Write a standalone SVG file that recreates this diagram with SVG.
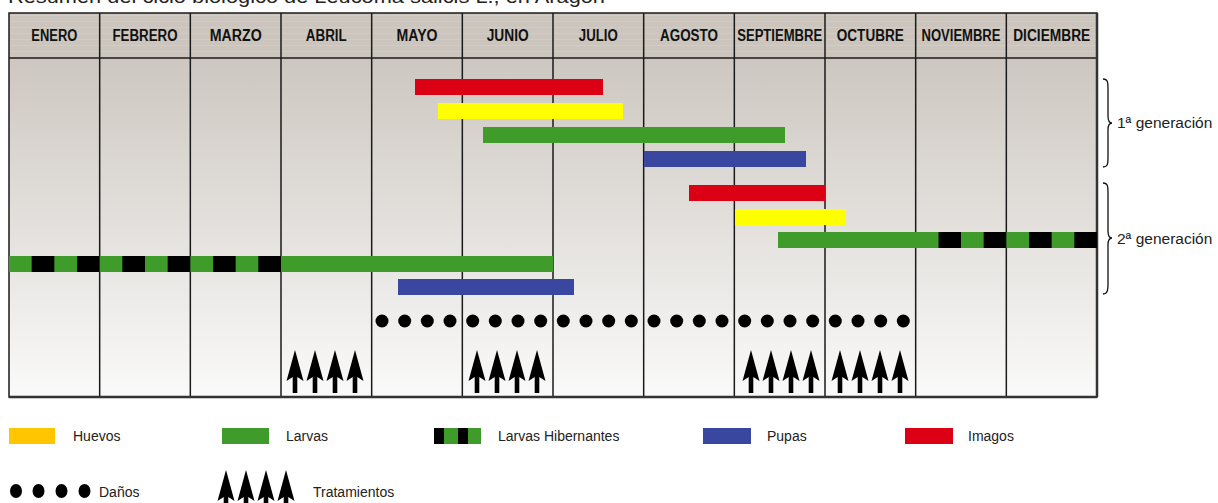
<svg xmlns="http://www.w3.org/2000/svg" width="1218" height="503" viewBox="0 0 1218 503">
<style>
.t{font-family:"Liberation Sans",Arial,sans-serif;fill:#222}
.hd{font-family:"Liberation Sans",Arial,sans-serif;font-weight:bold;font-size:16px;fill:#111;text-anchor:middle}
.lg{font-size:14px}
.grid{stroke:#1a1a1a;stroke-width:1.5;fill:none}
.red{fill:#dc0014}.yel{fill:#ffff00}.grn{fill:#3f9c2b}.blu{fill:#3a47a0}
.brace{fill:none;stroke:#111;stroke-width:1.3}
</style>
<defs>
<linearGradient id="bodyg" x1="0" y1="58" x2="0" y2="397" gradientUnits="userSpaceOnUse">
<stop offset="0" stop-color="#cdc7c0"/>
<stop offset="1" stop-color="#fafafa"/>
</linearGradient>
<pattern id="stripe" x="0" y="0" width="10" height="6" patternUnits="userSpaceOnUse">
<rect width="10" height="6" fill="#cbc5bd"/>
<rect y="3" width="10" height="1" fill="#d2ccc5"/>
</pattern>
<pattern id="hib" x="9" y="0" width="45.333" height="20" patternUnits="userSpaceOnUse">
<rect width="22.667" height="20" fill="#3f9c2b"/>
<rect x="22.667" width="22.667" height="20" fill="#000"/>
</pattern>
<path id="arr" d="M0,0 L8.5,31 L2.3,27 L2.3,43 L-2.3,43 L-2.3,27 L-8.5,31 Z" fill="#000"/>
</defs>
<rect width="1218" height="503" fill="#fff"/>
<text class="t" x="8" y="3" font-size="19" textLength="597" lengthAdjust="spacingAndGlyphs">Resumen del ciclo biológico de Leucoma salicis L., en Aragón</text>

<g id="table">
<rect x="9" y="13" width="1088" height="45" fill="url(#stripe)"/>
<rect x="9" y="58" width="1088" height="339" fill="url(#bodyg)"/>
<rect x="9" y="13" width="1088" height="384" class="grid"/>
<line x1="9" y1="58" x2="1097" y2="58" class="grid" stroke-width="2"/>
<g class="grid">
<line x1="99.67" y1="13" x2="99.67" y2="397"/>
<line x1="190.33" y1="13" x2="190.33" y2="397"/>
<line x1="281" y1="13" x2="281" y2="397"/>
<line x1="371.67" y1="13" x2="371.67" y2="397"/>
<line x1="462.33" y1="13" x2="462.33" y2="397"/>
<line x1="553" y1="13" x2="553" y2="397"/>
<line x1="643.67" y1="13" x2="643.67" y2="397"/>
<line x1="734.33" y1="13" x2="734.33" y2="397"/>
<line x1="825" y1="13" x2="825" y2="397"/>
<line x1="915.67" y1="13" x2="915.67" y2="397"/>
<line x1="1006.33" y1="13" x2="1006.33" y2="397"/>
</g>
<line x1="1097" y1="13" x2="1097" y2="397" stroke="#333" stroke-width="2.5"/>
<line x1="9" y1="397" x2="1097" y2="397" stroke="#333" stroke-width="2.5"/>
</g>

<g id="headers">
<text class="hd" x="54.3" y="41" textLength="46" lengthAdjust="spacingAndGlyphs">ENERO</text>
<text class="hd" x="145" y="41" textLength="65" lengthAdjust="spacingAndGlyphs">FEBRERO</text>
<text class="hd" x="235.7" y="41" textLength="52" lengthAdjust="spacingAndGlyphs">MARZO</text>
<text class="hd" x="326.3" y="41" textLength="41" lengthAdjust="spacingAndGlyphs">ABRIL</text>
<text class="hd" x="417" y="41" textLength="41" lengthAdjust="spacingAndGlyphs">MAYO</text>
<text class="hd" x="507.7" y="41" textLength="42" lengthAdjust="spacingAndGlyphs">JUNIO</text>
<text class="hd" x="598.3" y="41" textLength="39" lengthAdjust="spacingAndGlyphs">JULIO</text>
<text class="hd" x="689" y="41" textLength="58" lengthAdjust="spacingAndGlyphs">AGOSTO</text>
<text class="hd" x="779.7" y="41" textLength="85" lengthAdjust="spacingAndGlyphs">SEPTIEMBRE</text>
<text class="hd" x="870.3" y="41" textLength="67" lengthAdjust="spacingAndGlyphs">OCTUBRE</text>
<text class="hd" x="961" y="41" textLength="79" lengthAdjust="spacingAndGlyphs">NOVIEMBRE</text>
<text class="hd" x="1051.7" y="41" textLength="77" lengthAdjust="spacingAndGlyphs">DICIEMBRE</text>
</g>

<g id="gen1">
<rect class="red" x="415" y="79" width="188" height="16"/>
<rect class="yel" x="438" y="103" width="185" height="16"/>
<rect class="grn" x="483" y="127" width="302" height="16"/>
<rect class="blu" x="644" y="151" width="162" height="16"/>
</g>
<g id="gen2">
<rect class="red" x="689" y="185" width="136" height="16"/>
<rect class="yel" x="735" y="209" width="111" height="16"/>
<rect class="grn" x="778" y="232" width="161" height="16"/>
<rect fill="url(#hib)" x="938.3" y="232" width="158.7" height="16"/>
</g>
<g id="overwinter">
<rect fill="url(#hib)" x="9" y="256" width="272" height="16"/>
<rect class="grn" x="281" y="256" width="272" height="16"/>
<rect class="blu" x="398" y="279" width="176" height="16"/>
</g>

<g id="damage" fill="#000">
<circle cx="382" cy="321" r="6.5"/><circle cx="404.7" cy="321" r="6.5"/><circle cx="427.3" cy="321" r="6.5"/><circle cx="450" cy="321" r="6.5"/>
<circle cx="472.7" cy="321" r="6.5"/><circle cx="495.3" cy="321" r="6.5"/><circle cx="518" cy="321" r="6.5"/><circle cx="540.7" cy="321" r="6.5"/>
<circle cx="563.3" cy="321" r="6.5"/><circle cx="586" cy="321" r="6.5"/><circle cx="608.7" cy="321" r="6.5"/><circle cx="631.3" cy="321" r="6.5"/>
<circle cx="654" cy="321" r="6.5"/><circle cx="676.7" cy="321" r="6.5"/><circle cx="699.3" cy="321" r="6.5"/><circle cx="722" cy="321" r="6.5"/>
<circle cx="744.7" cy="321" r="6.5"/><circle cx="767.3" cy="321" r="6.5"/><circle cx="790" cy="321" r="6.5"/><circle cx="812.7" cy="321" r="6.5"/>
<circle cx="835.3" cy="321" r="6.5"/><circle cx="858" cy="321" r="6.5"/><circle cx="880.7" cy="321" r="6.5"/><circle cx="903.3" cy="321" r="6.5"/>
</g>

<g id="treatments">
<use href="#arr" x="295" y="350"/><use href="#arr" x="315" y="350"/><use href="#arr" x="335" y="350"/><use href="#arr" x="355" y="350"/>
<use href="#arr" x="477" y="350"/><use href="#arr" x="497" y="350"/><use href="#arr" x="517" y="350"/><use href="#arr" x="537" y="350"/>
<use href="#arr" x="751" y="350"/><use href="#arr" x="771" y="350"/><use href="#arr" x="791" y="350"/><use href="#arr" x="811" y="350"/>
<use href="#arr" x="840" y="350"/><use href="#arr" x="860" y="350"/><use href="#arr" x="880" y="350"/><use href="#arr" x="900" y="350"/>
</g>

<g id="brace1">
<path class="brace" d="M1103,79 C1108,79 1108,83 1108,88 L1108,116 C1108,121 1109,123 1112,123 C1109,123 1108,125 1108,130 L1108,158 C1108,163 1108,167 1103,167"/>
<text class="t" x="1117" y="128" font-size="15.5">1ª generación</text>
</g>
<g id="brace2">
<path class="brace" d="M1103,183 C1108,183 1108,187 1108,192 L1108,231 C1108,236 1109,238 1112,238 C1109,238 1108,240 1108,245 L1108,284 C1108,289 1108,294 1103,294"/>
<text class="t" x="1117" y="244" font-size="15.5">2ª generación</text>
</g>

<g id="legend">
<rect x="9" y="428" width="46" height="16" fill="#ffc600"/>
<text class="t lg" x="73" y="441">Huevos</text>
<rect class="grn" x="222" y="428" width="47" height="16"/>
<text class="t lg" x="286" y="441">Larvas</text>
<rect x="434" y="428" width="10" height="16" fill="#000"/>
<rect class="grn" x="444" y="428" width="14" height="16"/>
<rect x="458" y="428" width="10" height="16" fill="#000"/>
<rect class="grn" x="468" y="428" width="13" height="16"/>
<text class="t lg" x="498" y="441">Larvas Hibernantes</text>
<rect class="blu" x="703" y="428" width="48" height="16"/>
<text class="t lg" x="767" y="441">Pupas</text>
<rect class="red" x="905" y="428" width="48" height="16"/>
<text class="t lg" x="968" y="441">Imagos</text>
<g fill="#000">
<ellipse cx="16" cy="491" rx="6" ry="7"/><ellipse cx="38.5" cy="491" rx="6" ry="7"/><ellipse cx="61.5" cy="491" rx="6" ry="7"/><ellipse cx="84.5" cy="491" rx="6" ry="7"/>
</g>
<text class="t lg" x="99" y="497">Daños</text>
<use href="#arr" x="226" y="470"/><use href="#arr" x="246" y="470"/><use href="#arr" x="266" y="470"/><use href="#arr" x="286" y="470"/>
<text class="t lg" x="313" y="497">Tratamientos</text>
</g>
</svg>
